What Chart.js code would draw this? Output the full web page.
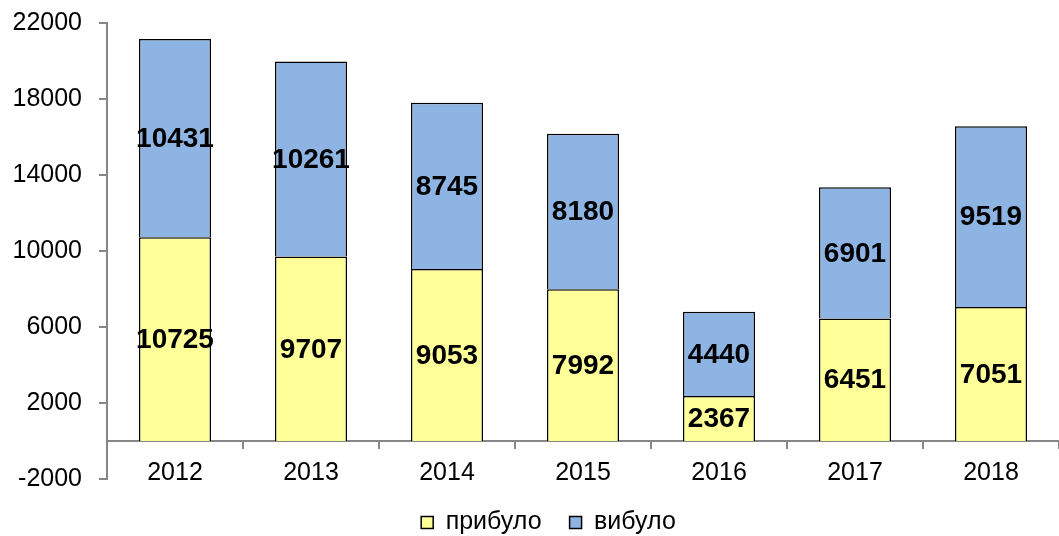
<!DOCTYPE html>
<html>
<head>
<meta charset="utf-8">
<script src="https://cdn.jsdelivr.net/npm/chart.js@4"></script>
<style>
  html, body { margin: 0; padding: 0; background: #fff; }
  #wrap { width: 1059px; height: 536px; }
</style>
</head>
<body>
<div id="wrap"><canvas id="chart"></canvas></div>
<script>
// Arrivals / departures by year (stacked)
var years = ["2012", "2013", "2014", "2015", "2016", "2017", "2018"];
var arrived = [10725, 9707, 9053, 7992, 2367, 6451, 7051];
var departed = [10431, 10261, 8745, 8180, 4440, 6901, 9519];
var yTicks = [-2000, 2000, 6000, 10000, 14000, 18000, 22000];

var FONT = "'Liberation Sans', Arial, sans-serif";
var AXIS = "#868686";

// value labels in the middle of each bar segment
var segmentLabels = {
  id: "segmentLabels",
  afterDatasetsDraw: function (chart) {
    var ctx = chart.ctx;
    ctx.save();
    ctx.font = "bold 28px " + FONT;
    ctx.fillStyle = "#000";
    ctx.textAlign = "center";
    ctx.textBaseline = "middle";
    chart.data.datasets.forEach(function (ds, di) {
      chart.getDatasetMeta(di).data.forEach(function (bar, i) {
        var p = bar.getProps(["x", "y", "base"], true);
        ctx.fillText(String(ds.data[i]), p.x, (p.y + p.base) / 2 + 1);
      });
    });
    ctx.restore();
  }
};

// legend: fixed height under the plot, nudged like the original
var legendFix = {
  id: "legendFix",
  beforeLayout: function (chart) {
    var lg = chart.legend;
    if (lg && !lg._fixed) {
      var fit = lg.fit;
      lg.fit = function () { fit.call(this); this.height = 57; };
      lg._fixed = true;
    }
  },
  afterLayout: function (chart) {
    if (chart.legend) {
      chart.legend.left += 38;
      chart.legend.top += 3;
    }
  }
};

new Chart(document.getElementById("chart").getContext("2d"), {
  type: "bar",
  data: {
    labels: years,
    datasets: [{
      label: "прибуло",
      data: arrived,
      backgroundColor: "#FFFF99",
      borderColor: "#000",
      borderWidth: 1.5,
      barPercentage: 0.53,
      categoryPercentage: 1
    }, {
      label: "вибуло",
      data: departed,
      backgroundColor: "#8EB4E3",
      borderColor: "#000",
      borderWidth: 1.5,
      barPercentage: 0.53,
      categoryPercentage: 1
    }]
  },
  options: {
    responsive: true,
    maintainAspectRatio: false,
    animation: false,
    layout: { padding: { top: 23, left: 0, right: 0, bottom: 0 } },
    plugins: {
      tooltip: { enabled: false },
      legend: {
        position: "bottom",
        labels: {
          font: { family: FONT, size: 25 },
          color: "#000",
          boxWidth: 12,
          boxHeight: 12,
          padding: 28
        }
      }
    },
    scales: {
      x: {
        stacked: true,
        position: { y: 0 },
        grid: { drawOnChartArea: false, drawTicks: true, tickLength: 7, color: AXIS, lineWidth: 2, offset: true },
        border: { display: true, color: AXIS, width: 2 },
        ticks: { font: { family: FONT, size: 25 }, color: "#000", padding: 10, maxRotation: 0 }
      },
      y: {
        stacked: true,
        min: -2000,
        max: 22000,
        grid: { drawOnChartArea: false, drawTicks: true, tickLength: 8, color: AXIS, lineWidth: 2 },
        border: { display: true, color: AXIS, width: 2 },
        ticks: {
          font: { family: FONT, size: 25 },
          color: "#000",
          padding: 17,
          callback: function (v) { return String(v); }
        },
        afterBuildTicks: function (s) {
          s.ticks = yTicks.map(function (v) { return { value: v }; });
        },
        afterFit: function (s) {
          s.width = 107;
          s.paddingTop = 0;
          s.paddingBottom = 0;
        }
      }
    }
  },
  plugins: [segmentLabels, legendFix]
});
</script>
</body>
</html>
